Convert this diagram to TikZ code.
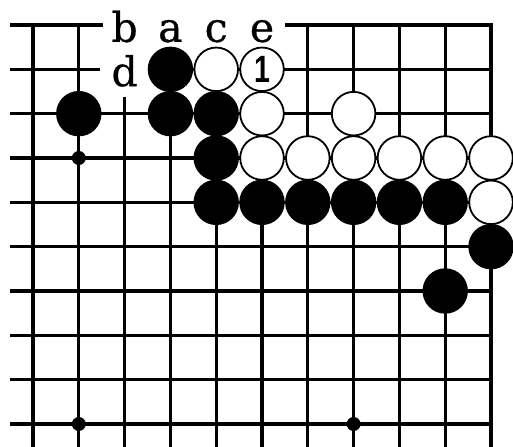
\documentclass[tikz,border=0pt]{standalone}
\usepackage{fontspec}
\newfontfamily\boardfont[BoldFont={DejaVu Serif},BoldFeatures={FakeBold=0.7}]{DejaVu Serif}
\newfontfamily\numfont{Liberation Sans Bold}
\usetikzlibrary{positioning}
\tikzset{
  gridline/.style={line width=3.3pt},
  edgeline/.style={line width=4.8pt},
  blackstone/.style={fill=black},
  whitestone/.style={draw=black,fill=white,line width=1.8pt},
  pointlabel/.style={anchor=base,inner sep=0pt,font=\boardfont\bfseries\fontsize{41}{44}\selectfont},
}

\begin{document}
\begin{tikzpicture}[x=45.8pt,y=-44.33pt]
  \useasboundingbox (-0.7205,-0.564) rectangle (10.48,9.497);

  % Grid lines
  \foreach \j in {2,...,9} {
    \draw[gridline] (-0.5,\j) -- (10,\j);
  }
  \draw[gridline] (-0.5,1) -- (1.47,1);
  \draw[gridline] (3,1) -- (10,1);
  \foreach \i in {0,1,6,7,8,9} {
    \draw[gridline] (\i,0) -- (\i,9.6);
  }
  \foreach \i in {3,4,5} {
    \draw[gridline] (\i,1) -- (\i,9.6);
  }
  \draw[gridline] (2,1.62) -- (2,9.6);

  % Board edges
  \draw[edgeline] (-0.5,0) -- (1.53,0);
  \draw[edgeline] (5.5,0) -- (10,0) -- (10,9.6);

  % Star points
  \foreach \i/\j in {1/3, 1/9, 7/9} {
    \fill (\i,\j) circle (7pt);
  }

  % Black stones
  \foreach \i/\j in {3/1, 1/2, 3/2, 4/2, 4/3, 4/4, 5/4, 6/4, 7/4, 8/4, 9/4, 10/5, 9/6} {
    \fill[blackstone] (\i,\j) circle (22.7pt);
  }

  % White stones
  \foreach \i/\j in {4/1, 5/1, 5/2, 7/2, 5/3, 6/3, 7/3, 8/3, 9/3, 10/3, 10/4} {
    \filldraw[whitestone] (\i,\j) circle (21.8pt);
  }

  % Labels
  \node[pointlabel] (lb) at (2,0.38) {b};
  \node[pointlabel] (la) at (3,0.38) {a};
  \node[pointlabel] (lc) at (4,0.38) {c};
  \node[pointlabel] (le) at (5,0.38) {e};
  \node[pointlabel] (ld) at (2,1.38) {d};
  \node[inner sep=0pt,font=\numfont\fontsize{38}{38}\selectfont] (move1) at (5,1) {\scalebox{0.75}[1]{1}};
\end{tikzpicture}
\end{document}
